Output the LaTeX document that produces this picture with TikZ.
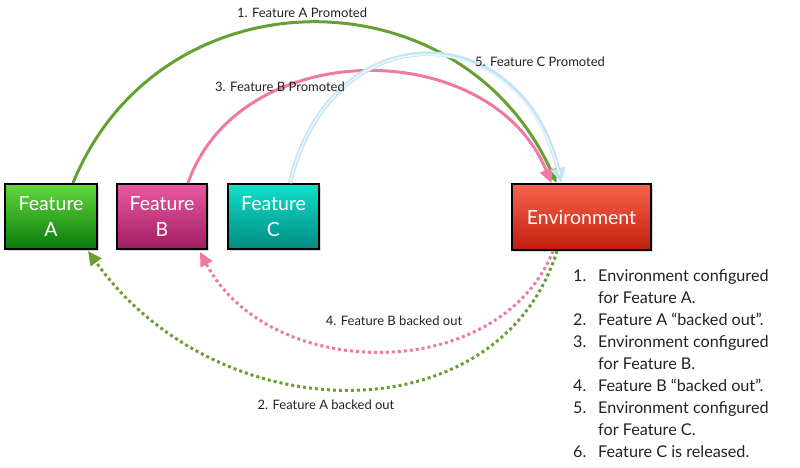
\documentclass[tikz,border=0pt]{standalone}
\usepackage{fontspec}
\setmainfont{Lato}
\usetikzlibrary{arrows.meta,shadows,calc}
\definecolor{gline}{RGB}{102,160,50}
\definecolor{pline}{RGB}{240,120,165}
\definecolor{bline}{RGB}{195,229,243}
\definecolor{binner}{RGB}{235,247,252}
\definecolor{atop}{RGB}{98,216,60}
\definecolor{abot}{RGB}{11,122,12}
\definecolor{btop}{RGB}{234,90,160}
\definecolor{bbot}{RGB}{160,28,98}
\definecolor{ctop}{RGB}{18,224,204}
\definecolor{cbot}{RGB}{0,138,128}
\definecolor{etop}{RGB}{248,99,76}
\definecolor{ebot}{RGB}{192,30,10}
\definecolor{txt}{RGB}{34,34,34}
\begin{document}
\begin{tikzpicture}[x=1pt,y=-1pt,
  featbox/.style={draw=black, line width=2pt, minimum height=65pt,
    text=white, align=center, font=\fontsize{19.5}{26}\selectfont,
    drop shadow={shadow xshift=1.5pt, shadow yshift=-1.5pt, opacity=0.3}},
  lbl/.style={text=txt, font=\fontsize{13}{15}\selectfont, inner sep=0pt},
  lst/.style={text=txt, font=\fontsize{16.2}{22}\selectfont, inner sep=0pt, anchor=base west},
  tip/.style={-{Triangle[length=14pt,width=13pt]}},
  solidarc/.style={line width=3pt, tip},
  dotarc/.style={line width=3pt, dash pattern=on 3pt off 3pt, tip}
]
\useasboundingbox (0,0) rectangle (800,467);

\node[featbox, minimum width=92pt, top color=atop, bottom color=abot] (A) at (51,216.5) {Feature\\A};
\node[featbox, minimum width=90pt, top color=btop, bottom color=bbot] (B) at (162,216.5) {Feature\\B};
\node[featbox, minimum width=91pt, top color=ctop, bottom color=cbot] (C) at (273.5,216.5) {Feature\\C};
\node[featbox, minimum width=139pt, minimum height=66pt, top color=etop, bottom color=ebot] (E) at (581.5,217) {Environment};

% promoted arcs
\draw[solidarc, gline] ([xshift=22pt]A.north) .. controls (160,-30) and (460,-30) .. ([xshift=-25pt]E.north);
\draw[solidarc, pline] ([xshift=26pt]B.north) .. controls (240,35) and (490,35) .. ([xshift=-30pt]E.north);
\draw[line width=4.5pt, bline, -{Triangle[length=15pt,width=14pt,fill=binner]}] ([xshift=16.5pt]C.north) .. controls (330,13) and (520,13) .. ([xshift=-20pt]E.north);
\draw[line width=1.5pt, binner, shorten >=8pt] ([xshift=16.5pt]C.north) .. controls (330,13) and (520,13) .. ([xshift=-20pt]E.north);

% backed out arcs
\draw[dotarc, gline] ([xshift=-24.5pt]E.south) .. controls (500,435) and (220,435) .. ([xshift=37pt,yshift=-1pt]A.south);
\draw[dotarc, pline] ([xshift=-28.5pt]E.south) .. controls (500,384) and (270,384) .. ([xshift=38pt,yshift=-2pt]B.south);

% labels
\node[lbl] (l1) at (302,13) {1. Feature A Promoted};
\node[lbl] (l3) at (280,87) {3. Feature B Promoted};
\node[lbl] (l5) at (540,62) {5. Feature C Promoted};
\node[lbl] (l4) at (394,321) {4. Feature B backed out};
\node[lbl] (l2) at (326,405) {2. Feature A backed out};

% list
\node[lst] (n1) at (573,281) {1.};
\node[lst] (t1) at (598,281) {Environment configured};
\node[lst] (t1b) at (598,303) {for Feature A.};
\node[lst] (n2) at (573,325) {2.};
\node[lst] (t2) at (598,325) {Feature A “backed out”.};
\node[lst] (n3) at (573,347) {3.};
\node[lst] (t3) at (598,347) {Environment configured};
\node[lst] (t3b) at (598,369) {for Feature B.};
\node[lst] (n4) at (573,391) {4.};
\node[lst] (t4) at (598,391) {Feature B “backed out”.};
\node[lst] (n5) at (573,413) {5.};
\node[lst] (t5) at (598,413) {Environment configured};
\node[lst] (t5b) at (598,435) {for Feature C.};
\node[lst] (n6) at (573,457) {6.};
\node[lst] (t6) at (598,457) {Feature C is released.};
\end{tikzpicture}
\end{document}
